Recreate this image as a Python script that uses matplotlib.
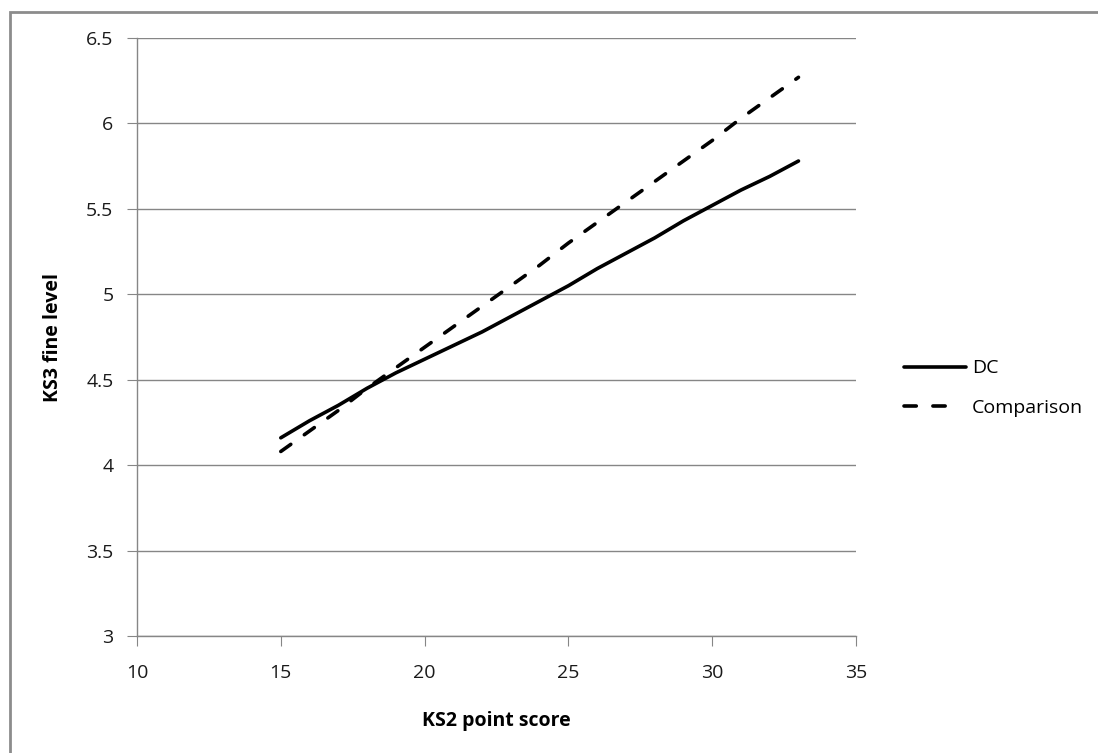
import matplotlib
matplotlib.use('Agg')
import matplotlib.pyplot as plt
from matplotlib.patches import Rectangle
from matplotlib.lines import Line2D

plt.rcParams['font.family'] = ['Open Sans', 'DejaVu Sans']

ks2 = [15, 16, 17, 18, 19, 20, 21, 22, 23, 24, 25, 26, 27, 28, 29, 30, 31, 32, 33]
dc = [4.16, 4.26, 4.35, 4.45, 4.54, 4.62, 4.70, 4.78, 4.87, 4.96, 5.05, 5.15,
      5.24, 5.33, 5.43, 5.52, 5.61, 5.69, 5.78]
comparison = [4.08, 4.20, 4.32, 4.45, 4.57, 4.69, 4.81, 4.93, 5.05, 5.17, 5.30,
              5.42, 5.54, 5.66, 5.78, 5.90, 6.03, 6.15, 6.27]
xticks = [10, 15, 20, 25, 30, 35]
yticks = [3, 3.5, 4, 4.5, 5, 5.5, 6, 6.5]
ytick_labels = ['3', '3.5', '4', '4.5', '5', '5.5', '6', '6.5']

W, H = 1098, 753
fig = plt.figure(figsize=(W / 100, H / 100), dpi=100)
ax = fig.add_axes([137 / W, 1 - 636 / H, (856 - 137) / W, (636 - 38) / H])

# chart border (only left/top visible, rest cut off)
fig.patches.append(Rectangle((10 / W, -0.1), 1.2, 1 - 12 / H + 0.1,
                             transform=fig.transFigure, fill=False,
                             edgecolor='#8c8c8c', linewidth=2))

grey = '#868686'
ax.plot(ks2, dc, color='black', linewidth=2.6, solid_capstyle='round')
ax.plot(ks2, comparison, color='black', linewidth=2.6,
        dashes=(3.4, 4.6), dash_capstyle='round')

ax.set_xlim(10, 35)
ax.set_ylim(3, 6.5)
ax.set_xticks(xticks)
ax.set_yticks(yticks)
ax.set_yticklabels(ytick_labels)
ax.grid(axis='y', color=grey, linewidth=1)
ax.set_axisbelow(True)
for s in ['top', 'right']:
    ax.spines[s].set_visible(False)
for s in ['left', 'bottom']:
    ax.spines[s].set_color(grey)
    ax.spines[s].set_linewidth(1)
ax.tick_params(direction='out', length=7, color=grey, labelsize=14,
               labelcolor='#1a1a1a', pad=10)
ax.tick_params(axis='x', pad=13)

fig.text(496 / W, 1 - 721 / H, 'KS2 point score', ha='center', va='center',
         fontsize=14, fontweight='bold')
fig.text(53 / W, 1 - 337 / H, 'KS3 fine level', ha='center', va='center',
         fontsize=14, fontweight='bold', rotation=90)

# legend handles: excel draws two dashes then a gap before the text
h_dc = Line2D([], [], color='black', linewidth=2.6, solid_capstyle='round')
h_cmp = Line2D([], [], color='black', linewidth=2.6, dash_capstyle='round',
               dashes=(3.4, 4.6, 3.4, 20))
fig.legend([h_dc, h_cmp], ['DC', 'Comparison'], loc='center left',
           bbox_to_anchor=(904 / W, 1 - 388 / H),
           frameon=False, fontsize=14, handlelength=3.2, labelspacing=1.1,
           handletextpad=0.3, borderpad=0, borderaxespad=0)

fig.savefig('out.png', dpi=100)
